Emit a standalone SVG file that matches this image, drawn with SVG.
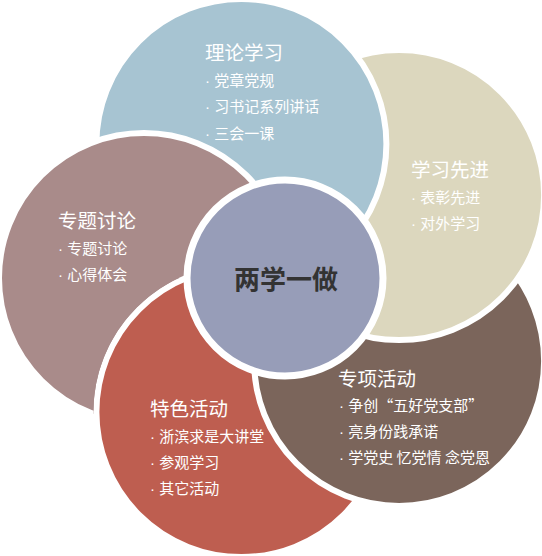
<svg xmlns="http://www.w3.org/2000/svg" width="542" height="556" viewBox="0 0 542 556">
<defs>
<style>
.c{stroke:#fff;stroke-width:6}
.t{font-family:"Noto Sans CJK SC","Noto Sans CJK JP",sans-serif;fill:#fff;font-size:19.5px}
.i{font-family:"Noto Sans CJK SC","Noto Sans CJK JP",sans-serif;fill:#fff;font-size:15px}
.d{font-family:"Liberation Sans",sans-serif}
.m{font-family:"Noto Sans CJK SC","Noto Sans CJK JP",sans-serif;fill:#333;font-size:26px;font-weight:bold}
</style>
<circle id="mauve" class="c" cx="144" cy="278" r="145" fill="#A98B8A"/>
<clipPath id="notred"><path clip-rule="evenodd" d="M0 0H542V556H0Z M241.4 264.1a148 148 0 1 0 0.01 0Z"/></clipPath>
</defs>
<rect width="542" height="556" fill="#fff"/>
<g id="node-zhuanti-base">
<use href="#mauve"/>
</g>
<g id="node-tese">
<circle class="c" cx="241.4" cy="412.1" r="145" fill="#BE5E50"/>
<text class="t" x="150" y="416">特色活动</text>
<text class="i" x="150" y="442"><tspan class="d">· </tspan>浙滨求是大讲堂</text>
<text class="i" x="150" y="468"><tspan class="d">· </tspan>参观学习</text>
<text class="i" x="150" y="494"><tspan class="d">· </tspan>其它活动</text>
</g>
<g id="node-zhuanxiang">
<circle class="c" cx="399.1" cy="360.9" r="145" fill="#7B655B"/>
<text class="t" x="338" y="386">专项活动</text>
<text class="i" x="339" y="411"><tspan class="d">· </tspan>争创“五好党支部”</text>
<text class="i" x="339" y="437"><tspan class="d">· </tspan>亮身份践承诺</text>
<text class="i" x="339" y="463"><tspan class="d">· </tspan>学党史 忆党情 念党恩</text>
</g>
<g id="node-xianjin">
<circle class="c" cx="399.1" cy="195.1" r="145" fill="#DCD7BE"/>
<text class="t" x="411" y="177">学习先进</text>
<text class="i" x="411" y="203"><tspan class="d">· </tspan>表彰先进</text>
<text class="i" x="411" y="229"><tspan class="d">· </tspan>对外学习</text>
</g>
<g id="node-lilun">
<circle class="c" cx="241.4" cy="143.9" r="145" fill="#A7C4D2"/>
<text class="t" x="205" y="60">理论学习</text>
<text class="i" x="205" y="86"><tspan class="d">· </tspan>党章党规</text>
<text class="i" x="205" y="112"><tspan class="d">· </tspan>习书记系列讲话</text>
<text class="i" x="205" y="139"><tspan class="d">· </tspan>三会一课</text>
</g>
<g id="node-zhuanti">
<use href="#mauve" clip-path="url(#notred)"/>
<text class="t" x="58" y="228">专题讨论</text>
<text class="i" x="58" y="254"><tspan class="d">· </tspan>专题讨论</text>
<text class="i" x="58" y="280"><tspan class="d">· </tspan>心得体会</text>
</g>
<g id="node-center">
<circle cx="285" cy="278" r="98" fill="#979DB8" stroke="#fff" stroke-width="7"/>
<text class="m" x="286" y="289" text-anchor="middle">两学一做</text>
</g>
</svg>
